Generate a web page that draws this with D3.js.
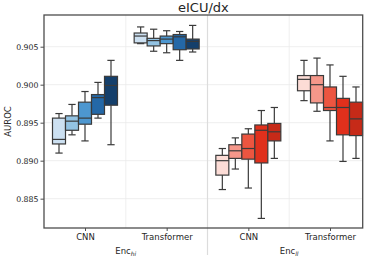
<!DOCTYPE html>
<html>
<head>
<meta charset="utf-8">
<script src="https://cdn.jsdelivr.net/npm/d3@7"></script>
<style>
  body { margin: 0; background: #fff; }
  text { font-family: "DejaVu Sans", sans-serif; fill: #262626; }
</style>
</head>
<body>
<div class="chart"></div>
<script>
// DATA
var groups = ["hi-CNN", "hi-Transformer", "ll-CNN", "ll-Transformer"];
var tickLabels = ["CNN", "Transformer", "CNN", "Transformer"];
var encoders = ["hi", "ll"];
var yTicks = [0.885, 0.890, 0.895, 0.900, 0.905];

// five runs per group: [whiskerLow, q1, median, q3, whiskerHigh]
var hiCNN = [
  [0.8910, 0.8922, 0.8928, 0.8956, 0.8962],
  [0.8934, 0.8940, 0.8952, 0.8959, 0.8974],
  [0.8926, 0.8948, 0.8956, 0.8977, 0.8991],
  [0.8956, 0.8961, 0.8983, 0.8987, 0.9003],
  [0.8921, 0.8973, 0.8999, 0.9011, 0.9032]
];
var hiTransformer = [
  [0.9054, 0.9055, 0.9064, 0.9068, 0.9076],
  [0.9044, 0.9051, 0.9058, 0.9061, 0.9073],
  [0.9042, 0.9054, 0.9060, 0.9064, 0.9071],
  [0.9032, 0.9046, 0.9063, 0.9066, 0.9070],
  [0.9043, 0.9047, 0.9057, 0.9060, 0.9078]
];
var llCNN = [
  [0.8862, 0.8881, 0.8900, 0.8907, 0.8916],
  [0.8889, 0.8903, 0.8913, 0.8921, 0.8930],
  [0.8864, 0.8902, 0.8916, 0.8935, 0.8942],
  [0.8824, 0.8897, 0.8940, 0.8947, 0.8966],
  [0.8903, 0.8926, 0.8938, 0.8949, 0.8970]
];
var llTransformer = [
  [0.8979, 0.8992, 0.9007, 0.9012, 0.9032],
  [0.8965, 0.8976, 0.9000, 0.9012, 0.9035],
  [0.8926, 0.8966, 0.8970, 0.8997, 0.9026],
  [0.8899, 0.8934, 0.8970, 0.8982, 0.9011],
  [0.8903, 0.8933, 0.8955, 0.8977, 0.8997]
];
var blues = ["#cce0f1", "#93c3e3", "#4d97d0", "#2468a7", "#143f6b"];
var reds = ["#fcdcd6", "#f5978a", "#ec5540", "#e0301c", "#c62a18"];

var allGroups = [hiCNN, hiTransformer, llCNN, llTransformer];
var palettes = [blues, blues, reds, reds];

var width = 374, height = 259;
var margin = {top: 15, right: 11.3, bottom: 31, left: 44};

var svg = d3.select(".chart").append("svg")
    .attr("width", width)
    .attr("height", height);

var x = d3.scalePoint()
    .domain(groups)
    .range([margin.left + 41, width - margin.right - 32.7]);

var step = x.step();

var inner = d3.scaleBand()
    .domain(d3.range(5))
    .range([-32.5, 32.5])
    .paddingInner(0);

var y = d3.scaleLinear()
    .domain([0.88114, 0.90917])
    .range([height - margin.bottom, margin.top]);

// grid
svg.append("g")
  .selectAll("line")
  .data(yTicks)
  .enter().append("line")
    .attr("x1", margin.left).attr("x2", width - margin.right)
    .attr("y1", function(d) { return y(d); })
    .attr("y2", function(d) { return y(d); })
    .attr("stroke", "#ebebeb").attr("stroke-width", 0.8);

var mids = [0, 1, 2].map(function(i) { return x(groups[i]) + step / 2; });
svg.append("g")
  .selectAll("line")
  .data(mids)
  .enter().append("line")
    .attr("x1", function(d) { return d; })
    .attr("x2", function(d) { return d; })
    .attr("y1", margin.top)
    .attr("y2", function(d, i) { return i === 1 ? height - 4 : height - margin.bottom; })
    .attr("stroke", function(d, i) { return i === 1 ? "#dcdcdc" : "#ebebeb"; })
    .attr("stroke-width", function(d, i) { return i === 1 ? 1.2 : 0.8; });

// boxes
allGroups.forEach(function(runs, gi) {
  var cx0 = x(groups[gi]);
  var g = svg.append("g").attr("transform", "translate(" + cx0 + ",0)");
  runs.forEach(function(d, i) {
    var bx = inner(i), bw = inner.bandwidth(), cx = bx + bw / 2;
    var cap = bw * 0.28;
    var s = "#3a3a3a";
    g.append("line").attr("x1", cx).attr("x2", cx)
      .attr("y1", y(d[0])).attr("y2", y(d[1])).attr("stroke", s).attr("stroke-width", 1.2);
    g.append("line").attr("x1", cx).attr("x2", cx)
      .attr("y1", y(d[3])).attr("y2", y(d[4])).attr("stroke", s).attr("stroke-width", 1.2);
    [d[0], d[4]].forEach(function(v) {
      g.append("line").attr("x1", cx - cap).attr("x2", cx + cap)
        .attr("y1", y(v)).attr("y2", y(v)).attr("stroke", s).attr("stroke-width", 1.2);
    });
    g.append("rect")
      .attr("x", bx).attr("width", bw)
      .attr("y", y(d[3])).attr("height", y(d[1]) - y(d[3]))
      .attr("fill", palettes[gi][i])
      .attr("stroke", s).attr("stroke-width", 1.2);
    g.append("line").attr("x1", bx).attr("x2", bx + bw)
      .attr("y1", y(d[2])).attr("y2", y(d[2])).attr("stroke", s).attr("stroke-width", 1.2);
  });
});

// frame
svg.append("rect")
  .attr("x", margin.left).attr("y", margin.top)
  .attr("width", width - margin.left - margin.right)
  .attr("height", height - margin.top - margin.bottom)
  .attr("fill", "none").attr("stroke", "#4d4d4d").attr("stroke-width", 1.3);

// y axis
var yAxis = svg.append("g")
  .attr("transform", "translate(" + margin.left + ",0)")
  .call(d3.axisLeft(y).tickValues(yTicks).tickFormat(d3.format(".3f")).tickSize(3.5).tickPadding(2));
yAxis.select(".domain").remove();
yAxis.selectAll("line").attr("stroke", "#4d4d4d");
yAxis.selectAll("text").style("font-size", "7.8px").attr("fill", "#262626");

// x axis
var xAxis = svg.append("g")
  .attr("transform", "translate(0," + (height - margin.bottom) + ")")
  .call(d3.axisBottom(x).tickFormat(function(d, i) { return tickLabels[i]; }).tickSize(3).tickPadding(3));
xAxis.select(".domain").remove();
xAxis.selectAll("line").attr("stroke", "#4d4d4d");
xAxis.selectAll("text").style("font-size", "8.5px").attr("fill", "#262626");

// encoder labels
encoders.forEach(function(e, i) {
  var cx = (x(groups[i * 2]) + x(groups[i * 2 + 1])) / 2;
  var t = svg.append("text")
    .attr("x", cx).attr("y", 253.5)
    .attr("text-anchor", "middle")
    .style("font-size", "8.5px");
  t.append("tspan").text("Enc");
  t.append("tspan").attr("dy", 2).style("font-size", "6px").style("font-style", "italic").text(e);
});

// y label
svg.append("text")
  .attr("transform", "translate(8," + ((margin.top + height - margin.bottom) / 2) + ") rotate(-90)")
  .attr("text-anchor", "middle")
  .attr("dy", "0.35em")
  .style("font-size", "8.5px")
  .text("AUROC");

// title
svg.append("text")
  .attr("x", (margin.left + width - margin.right) / 2)
  .attr("y", 11.5)
  .attr("text-anchor", "middle")
  .style("font-size", "13px")
  .text("eICU/dx");
</script>
</body>
</html>
